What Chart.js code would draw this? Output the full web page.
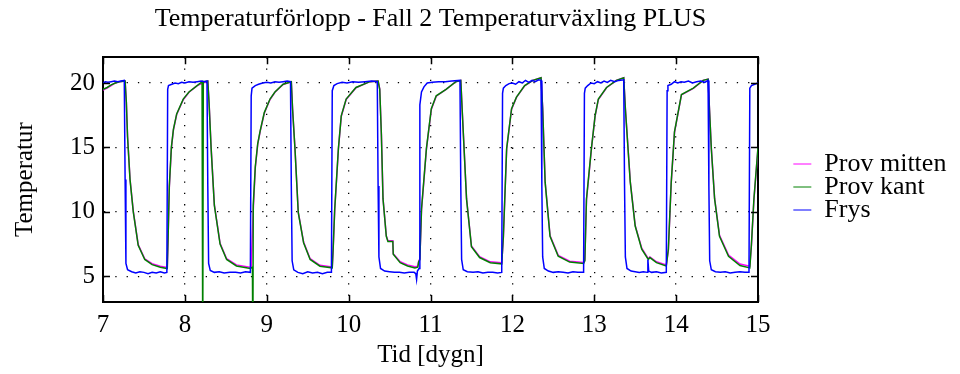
<!DOCTYPE html>
<html>
<head>
<meta charset="utf-8">
<script src="https://cdn.jsdelivr.net/npm/chart.js@4"></script>
<style>
html, body { margin: 0; padding: 0; background: #fff; }
</style>
</head>
<body>
<canvas id="myChart" width="960" height="374"></canvas>
<script>
// tick labels
var xTicks = [7, 8, 9, 10, 11, 12, 13, 14, 15]
var yTicks = [5, 10, 15, 20]

// Frys (blue)
var frysT = [7.00, 7.03, 7.06, 7.10, 7.14, 7.18, 7.22, 7.26,
  7.27, 7.28, 7.30, 7.35, 7.40, 7.45, 7.50, 7.55, 7.60, 7.65, 7.70, 7.75, 7.78,
  7.79, 7.80, 7.84, 7.88, 7.92, 7.96, 8.00, 8.05, 8.10, 8.15, 8.20, 8.24, 8.27,
  8.28, 8.29, 8.31, 8.36, 8.42, 8.48, 8.55, 8.62, 8.68, 8.74, 8.80,
  8.81, 8.82, 8.86, 8.90, 8.95, 9.00, 9.05, 9.10, 9.15, 9.20, 9.25, 9.29,
  9.30, 9.31, 9.33, 9.38, 9.44, 9.50, 9.56, 9.62, 9.68, 9.74, 9.79,
  9.80, 9.82, 9.86, 9.92, 9.98, 10.05, 10.12, 10.20, 10.28, 10.35,
  10.36, 10.37, 10.39, 10.44, 10.50, 10.56, 10.62, 10.68, 10.74, 10.80, 10.82, 10.83, 10.84, 10.86,
  10.87, 10.89, 10.92, 10.96, 11.02, 11.10, 11.18, 11.26, 11.36,
  11.37, 11.38, 11.40, 11.45, 11.52, 11.58, 11.64, 11.70, 11.76, 11.82, 11.87,
  11.88, 11.89, 11.92, 11.96, 12.00, 12.04, 12.08, 12.12, 12.16, 12.20, 12.24, 12.28, 12.32, 12.35,
  12.36, 12.37, 12.39, 12.44, 12.50, 12.56, 12.62, 12.68, 12.74, 12.80, 12.87,
  12.88, 12.89, 12.92, 12.96, 13.00, 13.04, 13.08, 13.12, 13.16, 13.20, 13.25, 13.30, 13.36,
  13.37, 13.38, 13.40, 13.45, 13.50, 13.55, 13.60, 13.65, 13.655, 13.665, 13.70, 13.76, 13.82, 13.88,
  13.89, 13.90, 13.94, 13.98, 14.02, 14.06, 14.10, 14.15, 14.20, 14.25, 14.30, 14.35, 14.39,
  14.40, 14.41, 14.43, 14.48, 14.54, 14.60, 14.66, 14.72, 14.78, 14.84, 14.89,
  14.90, 14.92, 14.96, 15.00]
var frysV = [20.0, 20.1, 20.05, 20.1, 20.15, 20.1, 20.15, 20.2,
  12.5, 6.0, 5.5, 5.35, 5.25, 5.35, 5.3, 5.2, 5.3, 5.25, 5.35, 5.25, 5.3,
  19.5, 19.8, 19.9, 20.0, 19.95, 20.05, 20.0, 20.1, 20.05, 20.1, 20.15, 20.1, 20.15,
  12, 6.0, 5.45, 5.3, 5.35, 5.25, 5.3, 5.3, 5.25, 5.35, 5.3,
  19.0, 19.6, 19.8, 19.9, 20.0, 20.05, 20.0, 20.1, 20.05, 20.1, 20.15, 20.1,
  12, 6.2, 5.5, 5.3, 5.2, 5.35, 5.25, 5.3, 5.2, 5.3, 5.3,
  19.4, 19.8, 19.95, 20.05, 20.0, 20.1, 20.05, 20.1, 20.15, 20.1,
  12, 6.5, 5.6, 5.4, 5.35, 5.3, 5.3, 5.25, 5.3, 5.3, 5.2, 4.75, 5.4, 5.6,
  18.3, 19.3, 19.7, 20.0, 20.05, 20.1, 20.1, 20.15, 20.2,
  12, 6.3, 5.5, 5.35, 5.3, 5.35, 5.25, 5.3, 5.3, 5.25, 5.3,
  19.2, 19.6, 19.8, 19.95, 20.0, 19.9, 20.1, 20.0, 20.2, 20.05, 20.2, 20.1, 20.25, 20.2,
  12, 6.5, 5.6, 5.4, 5.3, 5.35, 5.3, 5.25, 5.35, 5.3, 5.3,
  19.2, 19.6, 19.8, 20.0, 19.95, 20.1, 20.0, 20.15, 20.05, 20.2, 20.1, 20.2, 20.25,
  12, 6.5, 5.6, 5.4, 5.35, 5.3, 5.35, 5.3, 6.3, 5.4, 5.3, 5.35, 5.25, 5.3,
  19.4, 19.8, 19.9, 20.1, 20.0, 20.1, 20.05, 20.15, 20.0, 20.1, 20.15, 20.05, 20.2,
  12, 6.2, 5.5, 5.35, 5.3, 5.35, 5.25, 5.3, 5.35, 5.3, 5.3,
  19.6, 19.8, 19.9, 20.0]

// Prov kant (green)
var kantT = [7.00, 7.05, 7.10, 7.15, 7.20, 7.27,
  7.285, 7.30, 7.33, 7.37, 7.43, 7.51, 7.60, 7.70, 7.785,
  7.795, 7.81, 7.835, 7.86, 7.90, 7.98, 8.05, 8.15, 8.21,
  8.218, 8.225, 8.28,
  8.295, 8.32, 8.36, 8.43, 8.51, 8.63, 8.80,
  8.825, 8.83, 8.835, 8.86, 8.89, 8.92, 8.97, 9.04, 9.10, 9.20, 9.30,
  9.315, 9.345, 9.385, 9.45, 9.53, 9.65, 9.80,
  9.81, 9.83, 9.875, 9.91, 9.97, 10.09, 10.26, 10.36,
  10.38, 10.40, 10.42, 10.46, 10.48, 10.54, 10.545, 10.63, 10.72, 10.81, 10.845,
  10.855, 10.87, 10.89, 10.95, 11.01, 11.07, 11.19, 11.31, 11.37,
  11.39, 11.44, 11.50, 11.60, 11.73, 11.87,
  11.89, 11.93, 11.99, 12.05, 12.15, 12.25, 12.35,
  12.37, 12.40, 12.46, 12.56, 12.70, 12.87,
  12.885, 12.905, 12.965, 13.01, 13.05, 13.15, 13.27, 13.36,
  13.38, 13.44, 13.50, 13.58, 13.66, 13.68, 13.76, 13.88,
  13.905, 13.94, 13.98, 14.065, 14.21, 14.33, 14.39,
  14.43, 14.47, 14.53, 14.64, 14.78, 14.90,
  14.92, 14.95, 15.00]
var kantV = [19.5, 19.65, 19.85, 20.0, 20.1, 20.15,
  18.5, 15.8, 12.5, 10.0, 7.4, 6.3, 5.9, 5.7, 5.6,
  8.0, 12.0, 15.0, 16.4, 17.6, 18.75, 19.3, 19.8, 20.1,
  -1, 20.1, 20.15,
  18.5, 15.0, 10.5, 7.5, 6.3, 5.8, 5.6,
  5.7, -1, 10.5, 13.5, 15.3, 16.3, 17.7, 18.75, 19.3, 19.9, 20.1,
  18.0, 14.85, 9.93, 7.6, 6.3, 5.78, 5.65,
  7.0, 10.2, 14.9, 17.45, 18.75, 19.65, 20.1, 20.15,
  19.5, 16.0, 11.0, 8.1, 7.7, 7.7, 6.7, 6.05, 5.8, 5.65, 5.7,
  6.1, 6.3, 10.2, 14.9, 18.0, 19.0, 19.5, 20.1, 20.2,
  17.5, 11.0, 7.3, 6.45, 6.05, 5.96,
  8.1, 14.9, 18.0, 18.9, 19.8, 20.2, 20.4,
  18.0, 12.3, 8.1, 6.55, 6.1, 5.99,
  6.2, 11.0, 14.9, 17.45, 18.75, 19.65, 20.2, 20.4,
  18.0, 12.3, 8.9, 7.1, 6.3, 6.45, 6.05, 5.8,
  7.1, 12.3, 16.2, 19.1, 19.6, 20.2, 20.3,
  14.9, 11.0, 8.1, 6.55, 5.83, 5.65,
  7.5, 11.0, 15.0]

// Prov mitten (magenta), mostly hidden under Prov kant
var mittenT = [7.00, 7.05, 7.10, 7.15, 7.20, 7.27,
  7.285, 7.30, 7.33, 7.37, 7.43, 7.51, 7.60, 7.70, 7.785,
  7.795, 7.81, 7.835, 7.86, 7.90, 7.98, 8.05, 8.15, 8.28,
  8.295, 8.32, 8.36, 8.43, 8.51, 8.63, 8.81,
  8.82, 8.835, 8.86, 8.89, 8.92, 8.97, 9.04, 9.10, 9.20, 9.30,
  9.315, 9.345, 9.385, 9.45, 9.53, 9.65, 9.80,
  9.81, 9.83, 9.875, 9.91, 9.97, 10.09, 10.26, 10.36,
  10.38, 10.40, 10.42, 10.46, 10.48, 10.54, 10.545, 10.63, 10.72, 10.81, 10.845,
  10.855, 10.87, 10.89, 10.95, 11.01, 11.07, 11.19, 11.31, 11.37,
  11.39, 11.44, 11.50, 11.60, 11.73, 11.87,
  11.89, 11.93, 11.99, 12.05, 12.15, 12.25, 12.35,
  12.37, 12.40, 12.46, 12.56, 12.70, 12.87,
  12.885, 12.905, 12.965, 13.01, 13.05, 13.15, 13.27, 13.36,
  13.38, 13.44, 13.50, 13.58, 13.66, 13.68, 13.76, 13.88,
  13.905, 13.94, 13.98, 14.065, 14.21, 14.33, 14.39,
  14.43, 14.47, 14.53, 14.64, 14.78, 14.90,
  14.92, 14.95, 15.00]
var mittenV = [19.45, 19.6, 19.8, 20.0, 20.1, 20.15,
  18.55, 15.85, 12.55, 10.05, 7.45, 6.35, 5.97, 5.78, 5.68,
  7.9, 11.9, 14.9, 16.35, 17.55, 18.7, 19.28, 19.8, 20.15,
  18.55, 15.05, 10.55, 7.55, 6.36, 5.88, 5.68,
  7.6, 10.1, 13.4, 15.25, 16.25, 17.65, 18.72, 19.28, 19.88, 20.1,
  18.05, 14.9, 9.98, 7.65, 6.36, 5.85, 5.72,
  6.9, 10.1, 14.85, 17.4, 18.72, 19.63, 20.1, 20.15,
  19.55, 16.05, 11.05, 8.15, 7.75, 7.75, 6.75, 6.12, 5.88, 5.73, 5.78,
  6.15, 6.35, 10.1, 14.85, 17.95, 18.97, 19.5, 20.1, 20.2,
  17.55, 11.05, 7.35, 6.52, 6.12, 6.04,
  8.0, 14.85, 17.95, 18.88, 19.78, 20.2, 20.4,
  18.05, 12.35, 8.15, 6.62, 6.17, 6.07,
  6.25, 10.9, 14.85, 17.4, 18.72, 19.63, 20.2, 20.4,
  18.05, 12.35, 8.95, 7.17, 6.37, 6.5, 6.12, 5.88,
  7.0, 12.2, 16.15, 19.07, 19.58, 20.2, 20.3,
  14.95, 11.05, 8.17, 6.65, 5.95, 5.78,
  7.4, 10.9, 14.9]

function points(t, v) {
  var out = []
  for (var i in t) {
    out.push({ x: t[i], y: v[i] })
  }
  return out
}

var serif = "'Liberation Serif', 'Times New Roman', serif"
Chart.defaults.font.family = serif
Chart.defaults.color = '#000'

var padRight = 8

// inward tick marks on all four sides of the box
var insideTicks = {
  id: 'insideTicks',
  afterDraw: function(chart) {
    var c = chart.ctx, a = chart.chartArea
    var sx = chart.scales.x, sy = chart.scales.y
    c.save()
    c.strokeStyle = '#000'
    c.lineWidth = 1.5
    c.beginPath()
    xTicks.forEach(function(v) {
      var p = Math.round(sx.getPixelForValue(v)) + 0.5
      c.moveTo(p, a.bottom); c.lineTo(p, a.bottom - 7)
      c.moveTo(p, a.top); c.lineTo(p, a.top + 7)
    })
    yTicks.forEach(function(v) {
      var p = Math.round(sy.getPixelForValue(v)) + 0.5
      c.moveTo(a.left, p); c.lineTo(a.left + 7, p)
      c.moveTo(a.right, p); c.lineTo(a.right - 7, p)
    })
    c.stroke()
    c.restore()
  }
}

var gridOpts = { color: '#000', lineWidth: 1.3, drawTicks: false }
var borderOpts = { display: true, color: '#000', width: 2, dash: [1.3, 10] }

var ctx = document.getElementById("myChart")
var myChart = new Chart(ctx, {
  type: 'line',
  data: {
    datasets: [
      {
        label: "Prov mitten",
        data: points(mittenT, mittenV),
        borderColor: "#ff00ff",
        backgroundColor: "#ff00ff",
        order: 2
      },
      {
        label: "Prov kant",
        data: points(kantT, kantV),
        borderColor: "#008000",
        backgroundColor: "#008000",
        order: 1
      },
      {
        label: "Frys",
        data: points(frysT, frysV),
        borderColor: "#0000ff",
        backgroundColor: "#0000ff",
        order: 0
      }
    ]
  },
  options: {
    responsive: false,
    animation: false,
    parsing: false,
    elements: {
      line: { borderWidth: 1.5, tension: 0, fill: false },
      point: { radius: 0 }
    },
    layout: { padding: { left: 0, right: padRight, top: 0, bottom: 0 } },
    scales: {
      x: {
        type: 'linear', position: 'bottom', min: 7, max: 15,
        afterBuildTicks: function(s) { s.ticks = xTicks.map(function(v) { return { value: v } }) },
        afterFit: function(s) { s.height = 72 },
        ticks: { font: { size: 25 }, padding: 8, color: '#000' },
        grid: gridOpts,
        border: borderOpts,
        title: { display: true, text: 'Tid [dygn]', font: { size: 25 }, color: '#000', padding: { top: 0, bottom: 4 } }
      },
      y: {
        type: 'linear', position: 'left', min: 3, max: 22,
        afterBuildTicks: function(s) { s.ticks = yTicks.map(function(v) { return { value: v } }) },
        afterFit: function(s) { s.width = 103 },
        ticks: { font: { size: 25 }, padding: 8, color: '#000' },
        grid: gridOpts,
        border: borderOpts,
        title: { display: true, text: 'Temperatur', font: { size: 25 }, color: '#000', padding: { top: 10, bottom: 0 } }
      },
      x2: {
        type: 'linear', position: 'top', min: 7, max: 15,
        afterFit: function(s) { s.height = 0 },
        ticks: { display: false },
        grid: { display: false },
        border: { display: true, color: '#000', width: 2 }
      },
      y2: {
        type: 'linear', position: 'right', min: 3, max: 22,
        // keep the plot's right edge at x = 758, legend takes the rest
        afterFit: function(s) {
          var lg = s.chart.legend
          s.width = lg && lg.width ? Math.max(0, 960 - padRight - lg.width - 758) : 29
        },
        ticks: { display: false },
        grid: { display: false },
        border: { display: true, color: '#000', width: 2 }
      }
    },
    plugins: {
      title: {
        display: true,
        text: 'Temperaturförlopp - Fall 2 Temperaturväxling PLUS',
        fullSize: false,
        color: '#000',
        font: { size: 26, weight: 'normal' },
        padding: { top: 4, bottom: 22 }
      },
      legend: {
        position: 'right',
        align: 'center',
        labels: {
          usePointStyle: true,
          pointStyle: 'line',
          pointStyleWidth: 21,
          color: '#000',
          font: { size: 26 },
          padding: -3,
          sort: function(a, b) { return a.datasetIndex - b.datasetIndex }
        }
      },
      tooltip: { enabled: false }
    }
  },
  plugins: [insideTicks]
})
</script>
</body>
</html>
